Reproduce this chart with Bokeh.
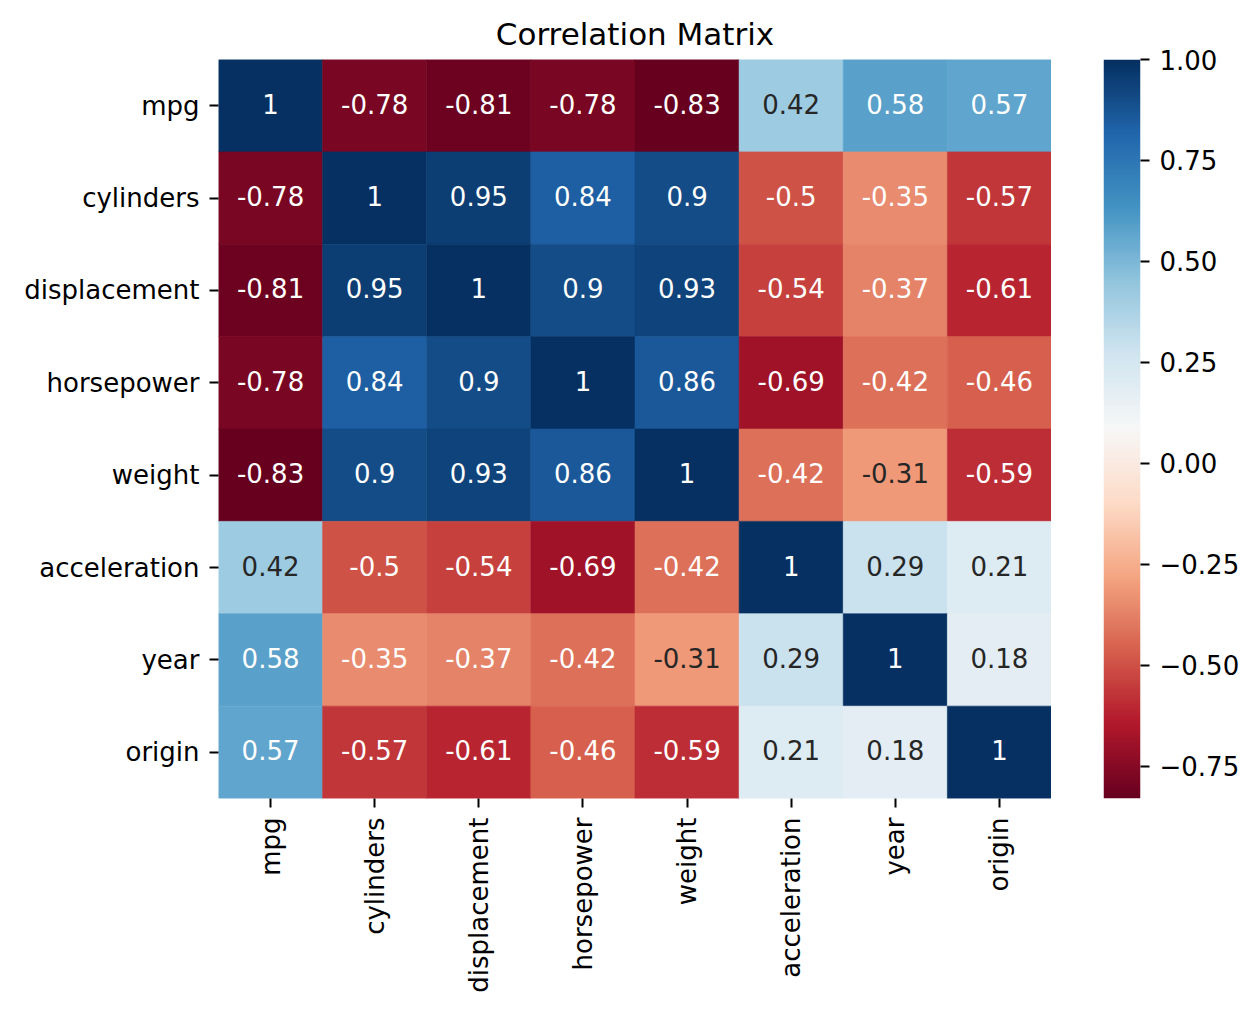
import math
import numpy as np
from bokeh.plotting import figure
from bokeh.models import (FactorRange, LinearColorMapper, ColumnDataSource, FixedTicker,
                          CustomJSTickFormatter, Range1d)
from bokeh.layouts import row
from bokeh.embed import file_html
from bokeh.resources import INLINE

names = ["mpg", "cylinders", "displacement", "horsepower", "weight", "acceleration", "year", "origin"]
corr_mpg = [1, -0.78, -0.81, -0.78, -0.83, 0.42, 0.58, 0.57]
corr_cylinders = [-0.78, 1, 0.95, 0.84, 0.9, -0.5, -0.35, -0.57]
corr_displacement = [-0.81, 0.95, 1, 0.9, 0.93, -0.54, -0.37, -0.61]
corr_horsepower = [-0.78, 0.84, 0.9, 1, 0.86, -0.69, -0.42, -0.46]
corr_weight = [-0.83, 0.9, 0.93, 0.86, 1, -0.42, -0.31, -0.59]
corr_acceleration = [0.42, -0.5, -0.54, -0.69, -0.42, 1, 0.29, 0.21]
corr_year = [0.58, -0.35, -0.37, -0.42, -0.31, 0.29, 1, 0.18]
corr_origin = [0.57, -0.57, -0.61, -0.46, -0.59, 0.21, 0.18, 1]
rows = [corr_mpg, corr_cylinders, corr_displacement, corr_horsepower,
        corr_weight, corr_acceleration, corr_year, corr_origin]
cbar_ticks = [-0.75, -0.5, -0.25, 0.0, 0.25, 0.5, 0.75, 1.0]

# matplotlib RdBu anchors
anchors = ["#67001f", "#b2182b", "#d6604d", "#f4a582", "#fddbc7", "#f7f7f7",
           "#d1e5f0", "#92c5de", "#4393c3", "#2166ac", "#053061"]
arr = np.array([[int(h[i:i + 2], 16) / 255 for i in (1, 3, 5)] for h in anchors])
pos = np.linspace(0, 1, len(anchors))
t = np.linspace(0, 1, 256)
pal_rgb = np.stack([np.interp(t, pos, arr[:, k]) for k in range(3)], axis=1)
palette = ["#%02x%02x%02x" % tuple(int(round(c * 255)) for c in rgb) for rgb in pal_rgb]

vals_all = [v for r in rows for v in r]
low, high = min(vals_all), max(vals_all)
mapper = LinearColorMapper(palette=palette, low=low, high=high)


def lum(rgb):
    rgb = np.where(rgb <= 0.03928, rgb / 12.92, ((rgb + 0.055) / 1.055) ** 2.4)
    return float(rgb.dot([0.2126, 0.7152, 0.0722]))


xs, ys, vs, labels, tcols = [], [], [], [], []
for i, r in enumerate(rows):
    for j, v in enumerate(r):
        xs.append(names[j])
        ys.append(names[i])
        vs.append(v)
        labels.append(format(v, ".2g"))
        idx = int(min(255, max(0, (v - low) / (high - low) * 256)))
        tcols.append("#262626" if lum(pal_rgb[idx]) > 0.408 else "#ffffff")

src = ColumnDataSource(dict(x=xs, y=ys, v=vs, label=labels, tc=tcols))

FONT = "DejaVu Sans"

p = figure(width=1051, height=1008, output_backend="svg", toolbar_location=None,
           x_range=FactorRange(factors=names), y_range=FactorRange(factors=list(reversed(names))),
           min_border_left=218, min_border_right=0, min_border_top=59, min_border_bottom=210,
           title="Correlation Matrix")
p.rect(x="x", y="y", width=1, height=1, source=src,
       fill_color={"field": "v", "transform": mapper},
       line_color={"field": "v", "transform": mapper}, line_width=0.6)
p.text(x="x", y="y", text="label", source=src, text_color="tc",
       text_align="center", text_baseline="middle", y_offset=-2,
       text_font={"value": FONT}, text_font_size={"value": "26px"})
p.title.text_font = FONT
p.title.text_font_size = "31px"
p.title.text_font_style = "normal"
p.title.align = "center"
p.title.text_color = "black"
p.title.standoff = 16
p.outline_line_color = None
p.grid.visible = False
for ax in (p.xaxis, p.yaxis):
    ax.axis_line_color = None
    ax.major_tick_out = 9
    ax.major_tick_in = 0
    ax.major_tick_line_width = 2
    ax.major_tick_line_color = "black"
    ax.major_label_text_font = FONT
    ax.major_label_text_font_size = "26px"
    ax.major_label_text_color = "black"
    ax.major_label_standoff = 10
p.xaxis.major_label_orientation = math.pi / 2

# colorbar figure
c = figure(width=200, height=1008, output_backend="svg", toolbar_location=None,
           x_range=Range1d(0, 1), y_range=Range1d(low, high),
           min_border_left=52, min_border_right=111, min_border_top=59, min_border_bottom=210,
           y_axis_location="right")
grad = np.linspace(low, high, 512).reshape(-1, 1)
c.image(image=[grad], x=0, y=low, dw=1, dh=high - low, color_mapper=mapper)
c.outline_line_color = None
c.grid.visible = False
c.xaxis.visible = False
ya = c.yaxis[0]
ya.ticker = FixedTicker(ticks=cbar_ticks)
ya.formatter = CustomJSTickFormatter(code="return (tick < 0 ? '\u2212' : '') + Math.abs(tick).toFixed(2);")
ya.axis_line_color = None
ya.major_tick_out = 9
ya.major_tick_in = 0
ya.minor_tick_line_color = None
ya.major_tick_line_width = 2
ya.major_tick_line_color = "black"
ya.major_label_text_font = FONT
ya.major_label_text_font_size = "26px"
ya.major_label_text_color = "black"
ya.major_label_standoff = 10

layout = row(p, c)
open("out.html", "w").write(file_html(layout, INLINE))
